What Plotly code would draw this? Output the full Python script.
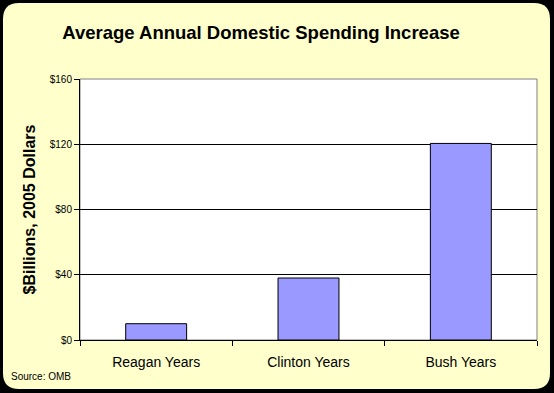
import plotly.graph_objects as go

categories = ["Reagan Years", "Clinton Years", "Bush Years"]
values = [10, 38, 120.5]
y_ticks = [0, 40, 80, 120, 160]
y_tick_labels = ["$0", "$40", "$80", "$120", "$160"]

fig = go.Figure()
fig.add_trace(go.Bar(
    x=categories, y=values,
    marker=dict(color="#9999FF", line=dict(color="black", width=1)),
    width=0.4, hoverinfo="skip",
))

W, H = 554, 393
L, R, T, B = 80, 537, 79, 340
# paper coords in plotly are relative to the plot area
def px(x): return (x - L) / (R - L)
def py(y): return (B - y) / (B - T)

r = 16
x0, y0, x1, y1 = 3, 3, 550, 389
path = (f"M {px(x0+r)},{py(y0)} L {px(x1-r)},{py(y0)} Q {px(x1)},{py(y0)} {px(x1)},{py(y0+r)} "
        f"L {px(x1)},{py(y1-r)} Q {px(x1)},{py(y1)} {px(x1-r)},{py(y1)} "
        f"L {px(x0+r)},{py(y1)} Q {px(x0)},{py(y1)} {px(x0)},{py(y1-r)} "
        f"L {px(x0)},{py(y0+r)} Q {px(x0)},{py(y0)} {px(x0+r)},{py(y0)} Z")

fig.update_layout(
    width=W, height=H,
    paper_bgcolor="black",
    plot_bgcolor="white",
    margin=dict(l=L, r=W - R, t=T, b=H - B),
    showlegend=False,
    font=dict(family="Liberation Sans, Arial, sans-serif", color="black"),
    title=dict(text="<b>Average Annual Domestic Spending Increase</b>",
               x=261 / W, xanchor="center", xref="container", y=1 - 33 / H, yanchor="middle",
               font=dict(size=18.5, color="black")),
    shapes=[
        dict(type="path", path=path, xref="paper", yref="paper",
             fillcolor="#FFFFCC", line=dict(width=0), layer="below"),
        dict(type="rect", xref="paper", yref="paper", x0=0, x1=1, y0=0, y1=1,
             fillcolor="white", line=dict(color="#808080", width=1), layer="below"),
    ],
    annotations=[
        dict(text="Source: OMB", xref="paper", yref="paper", x=px(9), y=py(376),
             xanchor="left", yanchor="middle", showarrow=False,
             font=dict(size=10, color="black")),
    ],
)

fig.update_xaxes(
    showline=True, linecolor="black", linewidth=1,
    ticks="outside", tickson="boundaries", ticklen=5, tickcolor="black",
    tickfont=dict(size=14), showgrid=False, ticklabelstandoff=9,
)
fig.update_yaxes(
    range=[0, 160], tickmode="array", tickvals=y_ticks, ticktext=y_tick_labels,
    showline=True, linecolor="black", linewidth=1,
    ticks="outside", ticklen=5, tickcolor="black",
    tickfont=dict(size=10),
    showgrid=True, gridcolor="black", gridwidth=1,
    zeroline=False,
    title=dict(text="<b>$Billions, 2005 Dollars</b>", font=dict(size=16), standoff=10),
)

fig.write_html("out.html", post_script="document.body.style.margin='0';",
               config={"displayModeBar": False})
